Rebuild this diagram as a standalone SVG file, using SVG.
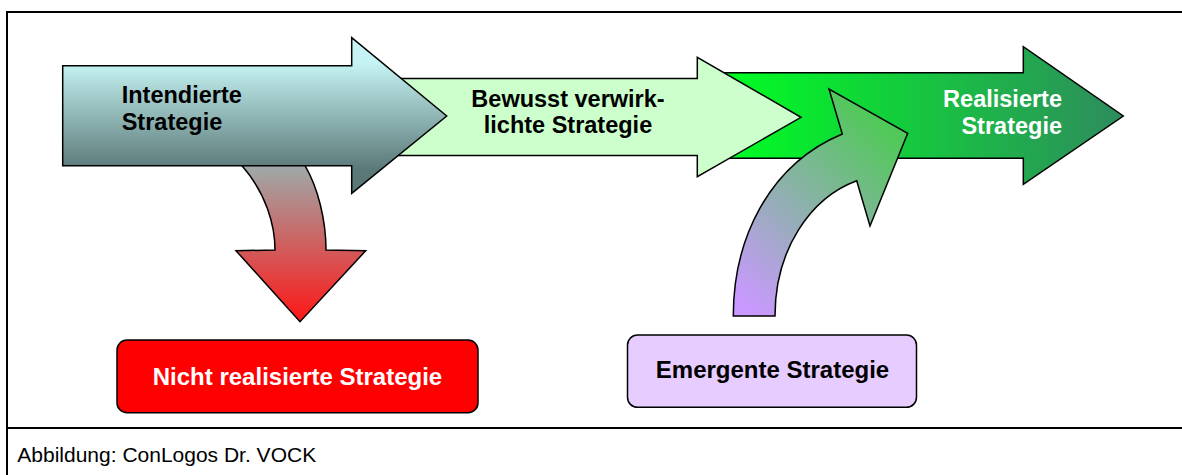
<svg xmlns="http://www.w3.org/2000/svg" width="1182" height="475" viewBox="0 0 1182 475">
<style>
  .frame { stroke: #000; stroke-width: 2; fill: none; }
  .shape { stroke: #000; stroke-width: 1.5; stroke-linejoin: miter; }
  .lbl { font-family: "Liberation Sans", Arial, sans-serif; font-weight: bold; font-size: 23.5px; }
  .box { font-family: "Liberation Sans", Arial, sans-serif; font-weight: bold; font-size: 24px; text-anchor: middle; }
  .cap { font-family: "Liberation Sans", Arial, sans-serif; font-size: 21px; fill: #000; }
</style>
<defs>
  <linearGradient id="gInt" gradientUnits="userSpaceOnUse" x1="0" y1="62" x2="0" y2="170">
    <stop offset="0" stop-color="#c6f4f4"/>
    <stop offset="1" stop-color="#5a7877"/>
  </linearGradient>
  <linearGradient id="gReal" gradientUnits="userSpaceOnUse" x1="720" y1="0" x2="1125" y2="0">
    <stop offset="0" stop-color="#00ff22"/>
    <stop offset="1" stop-color="#2e8b5e"/>
  </linearGradient>
  <linearGradient id="gRed" gradientUnits="userSpaceOnUse" x1="0" y1="166" x2="0" y2="322">
    <stop offset="0" stop-color="#9eaaa9"/>
    <stop offset="1" stop-color="#ff1616"/>
  </linearGradient>
  <linearGradient id="gEm" gradientUnits="userSpaceOnUse" x1="745" y1="305" x2="895" y2="140">
    <stop offset="0" stop-color="#c999ff"/>
    <stop offset="1" stop-color="#52c85a"/>
  </linearGradient>
</defs>

<g id="frame">
  <line class="frame" x1="7" y1="12" x2="1182" y2="12"/>
  <line class="frame" x1="7" y1="11" x2="7" y2="475"/>
  <line class="frame" x1="7" y1="428" x2="1182" y2="428"/>
</g>

<g id="realisierte-strategie">
  <path class="shape" fill="url(#gReal)" d="M 700,72.7 L 1023.3,72.7 L 1023.3,46.7 L 1123.3,116 L 1023.3,184.3 L 1023.3,158.3 L 700,158.3 Z"/>
  <text class="lbl" fill="#ffffff" text-anchor="end" x="1062" y="107.3">Realisierte</text>
  <text class="lbl" fill="#ffffff" text-anchor="end" x="1062" y="134.3">Strategie</text>
</g>

<g id="bewusst-verwirklichte-strategie">
  <path class="shape" fill="#ccffcc" d="M 380,78.5 L 697.3,78.5 L 697.3,57.3 L 801,117.3 L 697.3,176.7 L 697.3,155.5 L 380,155.5 Z"/>
  <text class="lbl" fill="#000" text-anchor="middle" x="568" y="106.7">Bewusst verwirk-</text>
  <text class="lbl" fill="#000" text-anchor="middle" x="568" y="133.3">lichte Strategie</text>
</g>

<g id="intendierte-strategie">
  <path class="shape" fill="url(#gInt)" d="M 62.7,65.7 L 351.7,65.7 L 351.7,37.7 L 446.7,116 L 351.7,193.3 L 351.7,165.7 L 62.7,165.7 Z"/>
  <text class="lbl" fill="#000" x="121.7" y="102.7">Intendierte</text>
  <text class="lbl" fill="#000" x="121.7" y="130">Strategie</text>
</g>

<g id="connectors">
  <path class="shape" fill="url(#gRed)" d="M 242,165.7 C 266,193 275,225 275,250 L 236,250.7 L 300,321.7 L 365.7,250.7 L 326,250 C 326,220 318,188 305,165.7 Z"/>
  <path class="shape" fill="url(#gEm)" d="M 733.3,316 C 733.3,240 768,165 842.3,134 L 829,89 L 907.7,133.3 L 870,226 L 856.7,180.7 C 810,198 775,250 775,316 Z"/>
</g>

<g id="nicht-realisierte-strategie">
  <rect class="shape" x="117" y="340" width="361" height="72.7" rx="10" ry="10" fill="#ff0000"/>
  <text class="box" fill="#ffffff" x="297.5" y="385">Nicht realisierte Strategie</text>
</g>

<g id="emergente-strategie">
  <rect class="shape" x="627.5" y="335" width="289" height="72.3" rx="10" ry="10" fill="#e6ccff"/>
  <text class="box" fill="#000" x="772.5" y="378.3">Emergente Strategie</text>
</g>

<g id="caption">
  <text class="cap" x="17.3" y="461.7">Abbildung: ConLogos Dr. VOCK</text>
</g>
</svg>
